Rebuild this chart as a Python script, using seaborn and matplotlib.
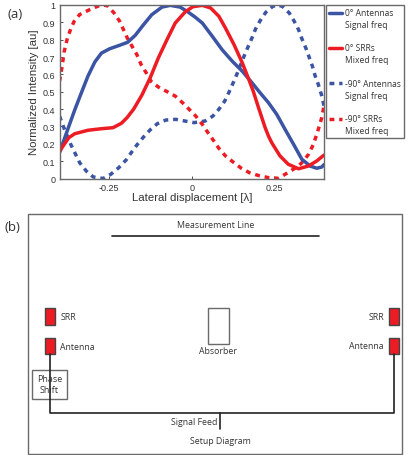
import matplotlib
matplotlib.use('Agg')
import matplotlib.pyplot as plt
from matplotlib.patches import Rectangle
import seaborn as sns

# --- Data ---
ant_0_x = [-0.4, -0.385, -0.37, -0.354, -0.332, -0.314, -0.293, -0.273, -0.248, -0.218, -0.194, -0.171, -0.146,
           -0.121, -0.09, -0.065, -0.035, -0.01, 0.011, 0.032, 0.062, 0.092, 0.123, 0.153, 0.183, 0.205, 0.232,
           0.257, 0.282, 0.308, 0.333, 0.358, 0.378, 0.393, 0.4]
ant_0_y = [0.15, 0.23, 0.31, 0.395, 0.503, 0.59, 0.672, 0.723, 0.748, 0.768, 0.785, 0.825, 0.886,
           0.944, 0.988, 0.998, 0.988, 0.958, 0.929, 0.896, 0.82, 0.742, 0.675, 0.618, 0.55, 0.498, 0.437,
           0.37, 0.284, 0.197, 0.111, 0.072, 0.059, 0.066, 0.08]

srr_0_x = [-0.4, -0.39, -0.372, -0.354, -0.314, -0.273, -0.238, -0.213, -0.196, -0.176, -0.151, -0.126, -0.101, -0.075,
           -0.05, -0.02, 0.003, 0.032, 0.057, 0.082, 0.102, 0.128, 0.153, 0.173, 0.186, 0.202, 0.222, 0.232, 0.242,
           0.267, 0.292, 0.323, 0.353, 0.378, 0.4]
srr_0_y = [0.155, 0.185, 0.235, 0.258, 0.278, 0.287, 0.293, 0.318, 0.35, 0.399, 0.48, 0.579, 0.695, 0.8,
           0.896, 0.96, 0.99, 0.998, 0.983, 0.935, 0.867, 0.771, 0.666, 0.569, 0.503, 0.408, 0.293, 0.245, 0.206,
           0.13, 0.082, 0.056, 0.072, 0.101, 0.135]

ant_90_x = [-0.4, -0.389, -0.366, -0.339, -0.319, -0.298, -0.268, -0.245, -0.221, -0.198, -0.183, -0.166, -0.146,
            -0.126, -0.104, -0.078, -0.048, -0.02, 0.007, 0.04, 0.064, 0.082, 0.1, 0.113, 0.125, 0.138, 0.158,
            0.171, 0.183, 0.193, 0.207, 0.224, 0.245, 0.26, 0.274, 0.295, 0.31, 0.323, 0.333, 0.345, 0.355,
            0.365, 0.373, 0.383, 0.392, 0.4]
ant_90_y = [0.36, 0.303, 0.197, 0.091, 0.043, 0.009, 0.0, 0.024, 0.062, 0.108, 0.149, 0.193, 0.239,
            0.28, 0.316, 0.337, 0.341, 0.331, 0.322, 0.331, 0.36, 0.399, 0.447, 0.499, 0.55, 0.608, 0.704,
            0.762, 0.814, 0.862, 0.91, 0.958, 0.992, 1.0, 0.992, 0.954, 0.906, 0.858, 0.806, 0.752, 0.7,
            0.647, 0.593, 0.541, 0.485, 0.42]

srr_90_x = [-0.4, -0.392, -0.386, -0.376, -0.366, -0.356, -0.339, -0.309, -0.283, -0.268, -0.255, -0.235, -0.218,
            -0.195, -0.166, -0.153, -0.136, -0.123, -0.101, -0.073, -0.05, -0.028, -0.008, 0.012, 0.032, 0.049,
            0.067, 0.082, 0.102, 0.125, 0.15, 0.175, 0.204, 0.232, 0.262, 0.29, 0.323, 0.338, 0.353, 0.368,
            0.378, 0.386, 0.393, 0.4]
srr_90_y = [0.56, 0.647, 0.73, 0.81, 0.862, 0.905, 0.945, 0.973, 0.994, 1.0, 0.996, 0.954, 0.906,
            0.81, 0.714, 0.656, 0.604, 0.56, 0.527, 0.499, 0.475, 0.437, 0.399, 0.36, 0.312, 0.264,
            0.216, 0.174, 0.13, 0.095, 0.059, 0.033, 0.016, 0.005, 0.001, 0.033, 0.072, 0.101, 0.139, 0.197,
            0.255, 0.303, 0.35, 0.418]

x_ticks = [-0.25, 0, 0.25]
x_tick_labels = ['-0.25', '0', '0.25']
y_ticks = [0, 0.1, 0.2, 0.3, 0.4, 0.5, 0.6, 0.7, 0.8, 0.9, 1]
y_tick_labels = ['0', '0.1', '0.2', '0.3', '0.4', '0.5', '0.6', '0.7', '0.8', '0.9', '1']

BLUE = '#3b54a4'
RED = '#ed1c24'
GRAY = '#6a6a6a'
DARK = '#333333'
W, H = 416, 456
DOTS = (0, (1.4, 1.4))

sns.set_theme(style='white')
plt.rcParams['font.family'] = ['Liberation Sans', 'DejaVu Sans']

fig = plt.figure(figsize=(W / 100, H / 100), dpi=100)

# --- (a) the line plot ---
ax = fig.add_axes([59.5 / W, 1 - 179.5 / H, 264.5 / W, 173.5 / H])
sns.lineplot(x=ant_90_x, y=ant_90_y, ax=ax, color=BLUE, lw=2.5, sort=False, estimator=None,
             dashes=False, linestyle=DOTS, label='-90° Antennas\nSignal freq')
sns.lineplot(x=srr_90_x, y=srr_90_y, ax=ax, color=RED, lw=2.5, sort=False, estimator=None,
             dashes=False, linestyle=DOTS, label='-90° SRRs\nMixed freq')
sns.lineplot(x=ant_0_x, y=ant_0_y, ax=ax, color=BLUE, lw=2.5, sort=False, estimator=None, label='0° Antennas\nSignal freq')
sns.lineplot(x=srr_0_x, y=srr_0_y, ax=ax, color=RED, lw=2.5, sort=False, estimator=None, label='0° SRRs\nMixed freq')

ax.set_xlim(-0.4, 0.4)
ax.set_ylim(0, 1)
ax.set_xticks(x_ticks, x_tick_labels)
ax.set_yticks(y_ticks, y_tick_labels)
ax.tick_params(labelsize=6.5, colors=DARK, length=2, width=0.6, direction='in', pad=3,
               bottom=True, left=True)
ax.set_xlabel('Lateral displacement [λ]', fontsize=8.2, color=DARK, labelpad=0.5)
ax.set_ylabel('Normalized Intensity [au]', fontsize=8.2, color=DARK, labelpad=2.5)
for spine in ax.spines.values():
    spine.set_color(GRAY)
    spine.set_linewidth(1.0)

# legend order: solid lines first
handles, labels = ax.get_legend_handles_labels()
order = [2, 3, 0, 1]
leg = ax.legend([handles[i] for i in order], [labels[i] for i in order],
                loc='upper left', bbox_to_anchor=(266.5 / 264.5, 1.0), borderaxespad=0,
                frameon=True, fancybox=False, framealpha=1, edgecolor=GRAY,
                handlelength=1.5, handletextpad=0.35, labelspacing=1.68, borderpad=0.36,
                prop={'family': 'Open Sans', 'size': 6.15})
leg.get_frame().set_linewidth(1.0)
for t in leg.get_texts():
    t.set_color(DARK)
    t.set_linespacing(1.42)
# the keys sit beside the first line of each label
for line in leg.get_lines():
    line.set_ydata([y + 4.5 for y in line.get_ydata()])

# --- (b) setup diagram, drawn in pixel coordinates ---
dg = fig.add_axes([0, 0, 1, 1], zorder=-1)
dg.set_xlim(0, W)
dg.set_ylim(H, 0)
dg.axis('off')


def rect(x0, y0, x1, y1, face='white', edge=GRAY, lw=1.0):
    dg.add_patch(Rectangle((x0, y0), x1 - x0, y1 - y0, facecolor=face, edgecolor=edge, linewidth=lw))


def label(x, y, s, ha='center', size=6.3):
    dg.text(x, y, s, ha=ha, va='center', fontsize=size, color=DARK, family='Open Sans')


rect(27.5, 215, 402, 455)

dg.plot([111.5, 319], [236.7, 236.7], color='#222222', lw=1.2)
dg.plot([50, 50, 394.3, 394.3], [355, 413.7, 413.7, 355], color='#222222', lw=1.2)
dg.plot([220, 220], [413.7, 430], color='#222222', lw=1.2)

rect(31.7, 370.7, 67.3, 400.3)
rect(208.3, 309.3, 228.7, 345)
rect(45.3, 309.3, 54.7, 325.7, face=RED, edge='#444444')
rect(45.3, 339.3, 54.7, 355, face=RED, edge='#444444')
rect(389.3, 309.3, 398.7, 325.7, face=RED, edge='#444444')
rect(389.3, 338.7, 398.7, 354.7, face=RED, edge='#444444')

label(216, 226, 'Measurement Line')
label(68.5, 317.5, 'SRR')
label(77, 347.5, 'Antenna')
label(49.5, 379.5, 'Phase', size=6.5)
label(49.5, 391, 'Shift', size=6.5)
label(218, 351.5, 'Absorber')
label(376, 317.5, 'SRR')
label(366, 346.5, 'Antenna')
label(217.5, 423, 'Signal Feed', ha='right')
label(220.5, 442, 'Setup Diagram')

dg.text(15, 15, '(a)', ha='center', va='center', fontsize=9.5, color=DARK, family='Open Sans')
dg.text(12.5, 228, '(b)', ha='center', va='center', fontsize=9.5, color=DARK, family='Open Sans')

fig.savefig('out.png', dpi=100)
